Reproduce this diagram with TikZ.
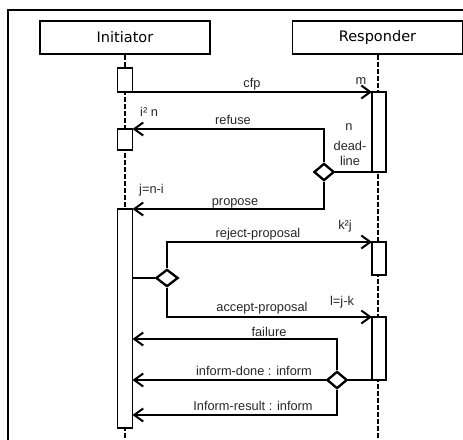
\documentclass[tikz,border=0pt]{standalone}
\usepackage{fontspec}
\setmainfont{Liberation Sans}
\newfontfamily\titlefont{DejaVu Sans}
\usetikzlibrary{arrows.meta,shapes.geometric}
\begin{document}
\begin{tikzpicture}[x=1pt,y=-1pt,
  frame/.style={line width=2pt},
  actor/.style={draw,line width=1.4pt,minimum width=170pt,minimum height=33pt,inner sep=0pt,font=\titlefont\fontsize{14.5}{16}\selectfont},
  act/.style={draw,fill=white,line width=1.8pt,minimum width=15pt,inner sep=0pt,outer sep=0pt},
  life/.style={line width=2pt,dash pattern=on 5pt off 2pt},
  msg/.style={line width=2pt,-{Straight Barb[length=9pt,width=13pt,line width=2pt]}},
  link/.style={line width=2pt},
  choice/.style={draw,diamond,fill=white,line width=2.2pt,minimum width=20pt,minimum height=17pt,inner sep=0pt},
  lbl/.style={font=\fontsize{12.8}{14}\selectfont,inner sep=0pt,text=black!85},
]
\clip (0,0) rectangle (463,439);
\useasboundingbox (0,0) rectangle (463,439);
\draw[frame] (8,450) -- (8,10) -- (480,10);

\node[actor] (init) at (125,37.5) {Initiator};
\node[actor] (resp) at (377.5,37.5) {Responder};
\coordinate (bot) at (0,445);
\draw[life] (init.south) -- (init.south |- bot);
\draw[life] (resp.south) -- (resp.south |- bot);

% activations
\node[act,minimum height=24pt] (a1) at (125,80) {};
\node[act,minimum height=21pt] (a2) at (125,139.5) {};
\node[act,minimum height=219pt] (a3) at (125,318.5) {};
\node[act,minimum width=14pt,minimum height=80pt] (r1) at (379,132) {};
\node[act,minimum width=14pt,minimum height=33pt] (r2) at (379,258.5) {};
\node[act,minimum width=14pt,minimum height=63pt] (r3) at (379,348.5) {};

% decisions
\node[choice] (d1) at (324,172) {};
\node[choice,minimum width=22pt] (d2) at (167,278) {};
\node[choice] (d3) at (337,380) {};

\coordinate (failY) at (0,339);
\coordinate (resY) at (0,415);

% messages
\draw[msg] (a1.south east) -- (r1.north west);
\draw[link] (d1.east) -- (d1.east -| r1.west);
\draw[msg] (d1.north) |- (a2.north east);
\draw[msg] (d1.south) |- (a3.north east);
\draw[link] (a3.east |- d2.west) -- (d2.west);
\draw[msg] (d2.north) |- (r2.north west);
\draw[msg] (d2.south) |- (r3.north west);
\draw[link] (d3.east) -- (d3.east -| r3.west);
\draw[msg] (d3.north) |- (a3.east |- failY);
\draw[msg] (d3.west) -- (d3.west -| a3.east);
\draw[msg] (d3.south) |- (a3.east |- resY);

% redraw decisions on top
\node[choice] at (d1) {};
\node[choice,minimum width=22pt] at (d2) {};
\node[choice] at (d3) {};

% labels
\node[lbl] (lcfp) at (252,84) {cfp};
\node[lbl] (lm) at (361,81) {m};
\node[lbl] (lref) at (233,120) {refuse};
\node[lbl,anchor=west] (li) at (140,112) {i² n};
\node[lbl] (ln) at (349,127) {n};
\node[lbl] (ldead) at (350,146) {dead-};
\node[lbl] (lline) at (350,161) {line};
\node[lbl] (lprop) at (235,203) {propose};
\node[lbl,anchor=west] (lj) at (139,190) {j=n-i};
\node[lbl] (lrej) at (258,234) {reject-proposal};
\node[lbl] (lk) at (345,226) {k²j};
\node[lbl] (lacc) at (262,308) {accept-proposal};
\node[lbl] (ll) at (342,302) {l=j-k};
\node[lbl] (lfail) at (269,332) {failure};
\node[lbl] (ldone) at (254,371) {inform-done : inform};
\node[lbl] (lres) at (253,406) {Inform-result : inform};
\end{tikzpicture}
\end{document}
